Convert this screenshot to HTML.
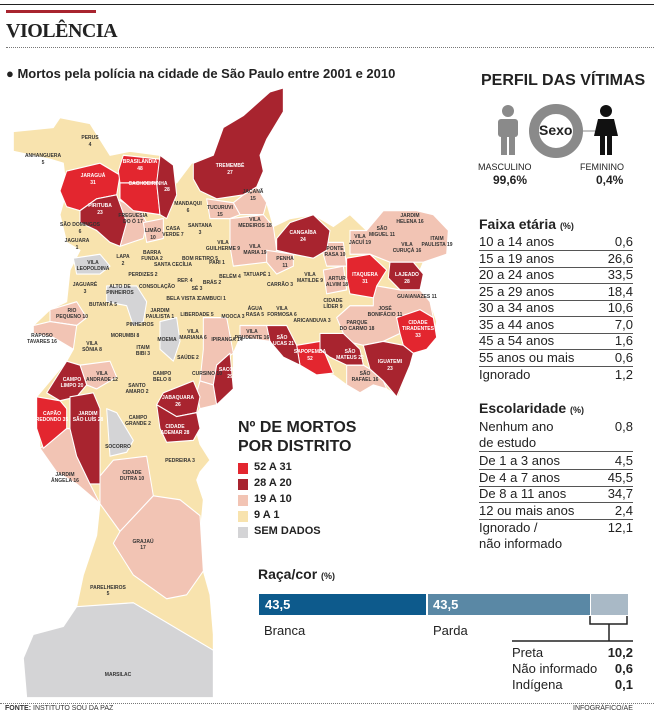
<!DOCTYPE html>
<html><head><meta charset="utf-8"><style>
html,body{margin:0;padding:0;background:#fff}
body{width:654px;height:720px;position:relative;overflow:hidden;font-family:"Liberation Sans",sans-serif;color:#222}
.a{position:absolute;white-space:nowrap}
.row{position:absolute;left:479px;width:154px;border-bottom:1px solid #555;font-size:13px;height:16px;line-height:16px;font-family:"Liberation Sans Narrow","Liberation Sans",sans-serif}
.row span{position:absolute;right:0}
.sw{position:absolute;left:238px;width:10px;height:11px}
.lg{position:absolute;left:254px;font-size:11px;font-weight:bold}
</style></head><body>
<div class="a" style="left:0;top:4px;width:654px;height:1px;background:#222"></div>
<div class="a" style="left:6px;top:10px;width:90px;height:3px;background:#a8242f"></div>
<div class="a" style="left:6px;top:20px;font-family:'Liberation Serif',serif;font-weight:bold;font-size:20px;letter-spacing:-0.5px">VIOLÊNCIA</div>
<div class="a" style="left:6px;top:47px;width:648px;border-top:1px dotted #777"></div>
<div class="a" style="left:6px;top:66px;font-size:13px;font-weight:bold;color:#222">● Mortos pela polícia na cidade de São Paulo entre 2001 e 2010</div>

<svg class="a" style="left:0;top:0" width="654" height="720">
<g transform="translate(0,80) scale(0.33333,0.396)" stroke="#fff" stroke-width="3" stroke-linejoin="round">
<polygon fill="#f8e3ae" points="40,130 160,120 180,95 270,110 330,190 390,180 480,190 530,260 575,210 600,200 640,190 670,120 730,90 810,30 850,20 850,80 800,150 780,190 790,230 770,270 800,310 820,370 870,350 940,340 1000,370 1050,340 1100,380 1150,330 1200,335 1250,330 1300,340 1345,380 1340,440 1270,460 1250,500 1260,540 1290,560 1310,610 1300,650 1280,670 1240,690 1230,720 1195,800 1160,780 1120,770 1080,790 1040,770 1000,745 950,740 900,720 850,700 810,660 720,650 700,690 700,780 650,820 600,830 580,860 600,920 630,960 600,990 590,1010 610,1060 600,1150 610,1240 630,1300 640,1400 640,1440 640,1560 80,1560 70,1460 100,1400 190,1380 230,1330 250,1250 290,1150 300,1070 230,1020 170,990 120,930 110,800 200,710 220,680 160,650 100,640 100,620 150,580 200,560 210,480 240,430 200,410 180,340 200,280 190,210 150,200 40,180"/>
<g fill="#f2c4b4">
<polygon points="350,300 420,330 440,360 430,400 360,420 380,360"/>
<polygon points="430,360 490,350 490,400 440,410"/>
<polygon points="730,290 770,270 800,310 790,340 720,340 700,310"/>
<polygon points="620,300 700,310 720,340 690,350 630,350"/>
<polygon points="690,350 790,340 820,370 830,430 800,460 700,470 690,420"/>
<polygon points="800,430 880,440 880,470 830,490 800,460"/>
<polygon points="960,410 1030,410 1040,470 980,470"/>
<polygon points="1050,380 1100,380 1150,330 1250,330 1300,340 1345,380 1340,440 1270,460 1170,460 1110,440 1050,440"/>
<polygon points="970,480 1030,470 1040,530 980,540"/>
<polygon points="1120,550 1130,520 1200,530 1260,530 1290,560 1300,600 1190,600 1200,640 1150,660 1090,670 1040,660 1030,640 1010,600 1050,570 1120,570"/>
<polygon points="1040,720 1090,720 1110,730 1150,760 1160,780 1120,770 1080,790 1040,770"/>
<polygon points="720,620 800,620 810,660 720,650"/>
<polygon points="610,600 680,600 700,690 650,720 640,770 600,760 610,680"/>
<polygon points="600,760 640,770 650,820 600,830 590,790"/>
<polygon points="150,580 230,560 260,600 230,620 150,610"/>
<polygon points="100,620 150,610 230,620 220,680 160,650 100,640"/>
<polygon points="240,720 330,710 350,750 290,780 260,770"/>
<polygon points="120,930 200,880 210,880 230,950 270,1020 300,1070 230,1020 170,990"/>
<polygon points="300,1000 340,960 440,950 460,1050 360,1140 300,1070"/>
<polygon points="360,1140 460,1050 540,1060 600,1100 610,1240 560,1300 500,1310 400,1250 340,1170"/>
</g>
<g fill="#d4d4d6">
<polygon points="220,450 300,440 330,470 300,490 230,490"/>
<polygon points="320,520 410,520 440,560 430,610 400,620 380,570 320,560"/>
<polygon points="480,610 530,600 540,660 520,710 480,680"/>
<polygon points="320,830 350,840 400,910 380,940 330,950"/>
<polygon points="100,1400 190,1380 230,1330 400,1320 640,1440 640,1560 80,1560 70,1460"/>
</g>
<g fill="#e3262f">
<polygon points="200,230 300,210 360,240 350,290 290,300 240,330 200,320 180,280"/>
<polygon points="370,190 480,200 470,260 360,260 355,230"/>
<polygon points="360,260 470,260 480,340 400,330 360,300"/>
<polygon points="1040,450 1110,440 1160,480 1130,520 1120,550 1050,540 1040,500"/>
<polygon points="1190,600 1260,580 1300,600 1310,650 1280,680 1240,690 1210,670 1200,640"/>
<polygon points="890,670 960,660 980,700 1000,740 950,745 900,720"/>
<polygon points="110,800 180,810 200,830 200,880 130,930 110,880"/>
</g>
<g fill="#a8242f">
<polygon points="480,190 520,215 530,290 500,350 480,340 470,260"/>
<polygon points="240,330 290,300 350,290 380,360 360,420 330,410 290,380 240,360"/>
<polygon points="580,210 640,190 670,120 730,90 810,30 850,20 850,80 800,150 780,190 790,230 770,270 730,290 650,300 600,280 580,250"/>
<polygon points="830,400 870,360 940,340 990,380 980,430 940,450 880,440 830,430"/>
<polygon points="1170,460 1240,460 1270,490 1260,530 1200,530 1165,500"/>
<polygon points="1090,670 1150,660 1210,670 1240,690 1230,720 1190,800 1150,760 1110,730"/>
<polygon points="960,640 1030,640 1080,680 1090,720 1040,720 990,700 960,680"/>
<polygon points="800,620 860,620 890,670 900,720 850,700 810,660"/>
<polygon points="650,720 690,690 700,780 650,820 640,770"/>
<polygon points="490,790 580,760 600,800 590,840 530,850 470,820"/>
<polygon points="470,820 530,850 590,840 600,880 580,910 500,915 480,880"/>
<polygon points="200,710 240,720 260,770 230,800 180,810 140,790"/>
<polygon points="210,800 280,790 300,830 300,1020 270,1020 230,950 210,880"/>
</g>
</g>
<g font-family="Liberation Sans Narrow, Liberation Sans, sans-serif" font-size="5" font-weight="bold" text-anchor="middle" fill="#333">
<text x="90" y="139">PERUS</text><text x="90" y="146">4</text>
<text x="43" y="157">ANHANGUERA</text><text x="43" y="164">5</text>
<text x="80" y="226">SÃO DOMINGOS</text><text x="80" y="233">6</text>
<text x="188" y="205">MANDAQUI</text><text x="188" y="212">6</text>
<text x="253" y="193">JAÇANÃ</text><text x="253" y="200">15</text>
<text x="220" y="209">TUCURUVI</text><text x="220" y="216">15</text>
<text x="133" y="217">FREGUESIA</text><text x="133" y="223">DO Ó 17</text>
<text x="153" y="232">LIMÃO</text><text x="153" y="239">10</text>
<text x="173" y="230">CASA</text><text x="173" y="236">VERDE 7</text>
<text x="200" y="227">SANTANA</text><text x="200" y="234">3</text>
<text x="255" y="221">VILA</text><text x="255" y="227">MEDEIROS 18</text>
<text x="410" y="217">JARDIM</text><text x="410" y="223">HELENA 16</text>
<text x="382" y="230">SÃO</text><text x="382" y="236">MIGUEL 11</text>
<text x="360" y="238">VILA</text><text x="360" y="244">JACUÍ 19</text>
<text x="407" y="246">VILA</text><text x="407" y="252">CURUÇÁ 16</text>
<text x="437" y="240">ITAIM</text><text x="437" y="246">PAULISTA 19</text>
<text x="77" y="242">JAGUARA</text><text x="77" y="249">1</text>
<text x="223" y="244">VILA</text><text x="223" y="250">GUILHERME 9</text>
<text x="255" y="248">VILA</text><text x="255" y="254">MARIA 19</text>
<text x="335" y="250">PONTE</text><text x="335" y="256">RASA 10</text>
<text x="285" y="260">PENHA</text><text x="285" y="267">11</text>
<text x="123" y="258">LAPA</text><text x="123" y="265">2</text>
<text x="152" y="254">BARRA</text><text x="152" y="260">FUNDA 2</text>
<text x="200" y="260">BOM RETIRO 5</text>
<text x="93" y="264">VILA</text><text x="93" y="270">LEOPOLDINA</text>
<text x="173" y="266">SANTA CECÍLIA</text>
<text x="217" y="264">PARI 1</text>
<text x="257" y="276">TATUAPÉ 1</text>
<text x="337" y="280">ARTUR</text><text x="337" y="286">ALVIM 18</text>
<text x="310" y="276">VILA</text><text x="310" y="282">MATILDE 9</text>
<text x="230" y="278">BELÉM 4</text>
<text x="143" y="276">PERDIZES 2</text>
<text x="85" y="286">JAGUARÉ</text><text x="85" y="293">3</text>
<text x="120" y="288">ALTO DE</text><text x="120" y="294">PINHEIROS</text>
<text x="157" y="288">CONSOLAÇÃO</text>
<text x="185" y="282">REP. 4</text><text x="197" y="290">SÉ 3</text>
<text x="212" y="284">BRÁS 2</text>
<text x="280" y="286">CARRÃO 3</text>
<text x="417" y="298">GUAIANAZES 11</text>
<text x="333" y="302">CIDADE</text><text x="333" y="308">LÍDER 9</text>
<text x="212" y="300">CAMBUCI 1</text>
<text x="183" y="300">BELA VISTA 3</text>
<text x="103" y="306">BUTANTÃ 5</text>
<text x="385" y="310">JOSÉ</text><text x="385" y="316">BONIFÁCIO 11</text>
<text x="72" y="312">RIO</text><text x="72" y="318">PEQUENO 10</text>
<text x="160" y="312">JARDIM</text><text x="160" y="318">PAULISTA 1</text>
<text x="255" y="310">ÁGUA</text><text x="255" y="316">RASA 5</text>
<text x="282" y="310">VILA</text><text x="282" y="316">FORMOSA 6</text>
<text x="233" y="318">MOOCA 3</text>
<text x="197" y="316">LIBERDADE 5</text>
<text x="357" y="324">PARQUE</text><text x="357" y="330">DO CARMO 18</text>
<text x="312" y="322">ARICANDUVA 3</text>
<text x="140" y="326">PINHEIROS</text>
<text x="42" y="337">RAPOSO</text><text x="42" y="343">TAVARES 16</text>
<text x="193" y="333">VILA</text><text x="193" y="339">MARIANA 6</text>
<text x="252" y="333">VILA</text><text x="252" y="339">PRUDENTE 16</text>
<text x="125" y="337">MORUMBI 8</text>
<text x="143" y="349">ITAIM</text><text x="143" y="355">BIBI 3</text>
<text x="167" y="341">MOEMA</text>
<text x="92" y="345">VILA</text><text x="92" y="351">SÔNIA 8</text>
<text x="227" y="341">IPIRANGA 14</text>
<text x="188" y="359">SAÚDE 2</text>
<text x="162" y="375">CAMPO</text><text x="162" y="381">BELO 8</text>
<text x="207" y="375">CURSINO 10</text>
<text x="102" y="375">VILA</text><text x="102" y="381">ANDRADE 12</text>
<text x="137" y="387">SANTO</text><text x="137" y="393">AMARO 2</text>
<text x="365" y="375">SÃO</text><text x="365" y="381">RAFAEL 16</text>
<text x="138" y="419">CAMPO</text><text x="138" y="425">GRANDE 2</text>
<text x="118" y="448">SOCORRO</text>
<text x="180" y="462">PEDREIRA 3</text>
<text x="65" y="476">JARDIM</text><text x="65" y="482">ÂNGELA 16</text>
<text x="132" y="474">CIDADE</text><text x="132" y="480">DUTRA 10</text>
<text x="143" y="543">GRAJAÚ</text><text x="143" y="549">17</text>
<text x="108" y="589">PARELHEIROS</text><text x="108" y="595">5</text>
<text x="118" y="676">MARSILAC</text>
</g>
<g font-family="Liberation Sans Narrow, Liberation Sans, sans-serif" font-size="5" font-weight="bold" text-anchor="middle" fill="#fff">
<text x="140" y="163">BRASILÂNDIA</text><text x="140" y="170">48</text>
<text x="93" y="177">JARAGUÁ</text><text x="93" y="184">31</text>
<text x="148" y="185">CACHOEIRINHA</text><text x="167" y="191">28</text>
<text x="230" y="167">TREMEMBÉ</text><text x="230" y="174">27</text>
<text x="100" y="207">PIRITUBA</text><text x="100" y="214">23</text>
<text x="303" y="234">CANGAÍBA</text><text x="303" y="241">24</text>
<text x="365" y="276">ITAQUERA</text><text x="365" y="283">31</text>
<text x="407" y="276">LAJEADO</text><text x="407" y="283">28</text>
<text x="418" y="324">CIDADE</text><text x="418" y="330">TIRADENTES</text><text x="418" y="337">33</text>
<text x="282" y="339">SÃO</text><text x="282" y="345">LUCAS 21</text>
<text x="310" y="353">SAPOPEMBA</text><text x="310" y="360">52</text>
<text x="350" y="353">SÃO</text><text x="350" y="359">MATEUS 22</text>
<text x="390" y="363">IGUATEMI</text><text x="390" y="370">23</text>
<text x="230" y="371">SACOMÃ</text><text x="230" y="378">29</text>
<text x="72" y="381">CAMPO</text><text x="72" y="387">LIMPO 20</text>
<text x="178" y="399">JABAQUARA</text><text x="178" y="406">26</text>
<text x="52" y="415">CAPÃO</text><text x="52" y="421">REDONDO 35</text>
<text x="88" y="415">JARDIM</text><text x="88" y="421">SÃO LUÍS 28</text>
<text x="175" y="428">CIDADE</text><text x="175" y="434">ADEMAR 28</text>
</g>
<g stroke="#222" stroke-width="1.5" fill="none">
<polyline points="590,616 590,624 627,624 627,616"/>
<line x1="609" y1="624" x2="609" y2="641"/>
<line x1="512" y1="641" x2="633" y2="641"/>
</g>
<g fill="#8a8a8a">
<circle cx="508" cy="111" r="6"/>
<rect x="498" y="119" width="20" height="18" rx="3"/>
<rect x="501" y="135" width="6" height="20"/><rect x="509" y="135" width="6" height="20"/>
</g>
<circle cx="556" cy="131" r="22" fill="none" stroke="#8a8a8a" stroke-width="10"/>
<line x1="578" y1="131" x2="596" y2="131" stroke="#8a8a8a" stroke-width="1"/>
<g fill="#111">
<circle cx="606" cy="111" r="6"/>
<polygon points="598,119 614,119 618,136 594,136"/>
<rect x="600" y="135" width="5" height="20"/><rect x="607" y="135" width="5" height="20"/>
</g>
</svg>

<div class="a" style="left:481px;top:72px;font-size:16px;font-weight:bold">PERFIL DAS VÍTIMAS</div>
<div class="a" style="left:539px;top:122px;font-size:14px;font-weight:bold">Sexo</div>
<div class="a" style="left:478px;top:162px;font-size:9px">MASCULINO</div>
<div class="a" style="left:493px;top:173px;font-size:12px;font-weight:bold">99,6%</div>
<div class="a" style="left:580px;top:162px;font-size:9px">FEMININO</div>
<div class="a" style="left:596px;top:173px;font-size:12px;font-weight:bold">0,4%</div>

<div class="a" style="left:479px;top:216px;font-size:14px;font-weight:bold">Faixa etária <span style="font-size:9px">(%)</span></div>
<div class="row" style="top:234px">10 a 14 anos<span>0,6</span></div>
<div class="row" style="top:251px">15 a 19 anos<span>26,6</span></div>
<div class="row" style="top:267px">20 a 24 anos<span>33,5</span></div>
<div class="row" style="top:284px">25 a 29 anos<span>18,4</span></div>
<div class="row" style="top:300px">30 a 34 anos<span>10,6</span></div>
<div class="row" style="top:317px">35 a 44 anos<span>7,0</span></div>
<div class="row" style="top:333px">45 a 54 anos<span>1,6</span></div>
<div class="row" style="top:350px">55 anos ou mais<span>0,6</span></div>
<div class="row" style="top:367px;border-bottom:none">Ignorado<span>1,2</span></div>

<div class="a" style="left:479px;top:400px;font-size:14px;font-weight:bold">Escolaridade <span style="font-size:9px">(%)</span></div>
<div class="row" style="top:419px;height:32px">Nenhum ano<br>de estudo<span style="top:0">0,8</span></div>
<div class="row" style="top:453px">De 1 a 3 anos<span>4,5</span></div>
<div class="row" style="top:470px">De 4 a 7 anos<span>45,5</span></div>
<div class="row" style="top:486px">De 8 a 11 anos<span>34,7</span></div>
<div class="row" style="top:503px">12 ou mais anos<span>2,4</span></div>
<div class="row" style="top:520px;height:32px;border-bottom:none">Ignorado /<br>não informado<span style="top:0">12,1</span></div>

<div class="a" style="left:238px;top:418px;font-size:16px;font-weight:bold;line-height:19px">Nº DE MORTOS<br>POR DISTRITO</div>
<div class="sw" style="top:463px;background:#e3262f"></div><div class="lg" style="top:461px">52 A 31</div>
<div class="sw" style="top:479px;background:#a8242f"></div><div class="lg" style="top:477px">28 A 20</div>
<div class="sw" style="top:495px;background:#f2c4b4"></div><div class="lg" style="top:493px">19 A 10</div>
<div class="sw" style="top:511px;background:#f8e3ae"></div><div class="lg" style="top:509px">9 A 1</div>
<div class="sw" style="top:527px;background:#d4d4d6"></div><div class="lg" style="top:525px">SEM DADOS</div>

<div class="a" style="left:258px;top:566px;font-size:14px;font-weight:bold">Raça/cor <span style="font-size:9px">(%)</span></div>
<div class="a" style="left:259px;top:594px;width:167px;height:21px;background:#0d5a8c"></div>
<div class="a" style="left:428px;top:594px;width:162px;height:21px;background:#5a88a5"></div>
<div class="a" style="left:591px;top:594px;width:37px;height:21px;background:#a9b9c6"></div>
<div class="a" style="left:265px;top:597px;font-size:13px;font-weight:bold;color:#fff">43,5</div>
<div class="a" style="left:433px;top:597px;font-size:13px;font-weight:bold;color:#fff">43,5</div>
<div class="a" style="left:264px;top:623px;font-size:13px">Branca</div>
<div class="a" style="left:433px;top:623px;font-size:13px">Parda</div>
<div class="a" style="left:512px;top:645px;width:121px;font-size:13px;line-height:16px">Preta<b style="float:right">10,2</b><br>Não informado<b style="float:right">0,6</b><br>Indígena<b style="float:right">0,1</b></div>

<div class="a" style="left:0;top:703px;width:654px;border-top:1px dotted #777"></div>
<div class="a" style="left:5px;top:705px;font-size:7px;color:#333"><b>FONTE:</b> INSTITUTO SOU DA PAZ</div>
<div class="a" style="left:573px;top:705px;font-size:7px;color:#333">INFOGRÁFICO/AE</div>
</body></html>
